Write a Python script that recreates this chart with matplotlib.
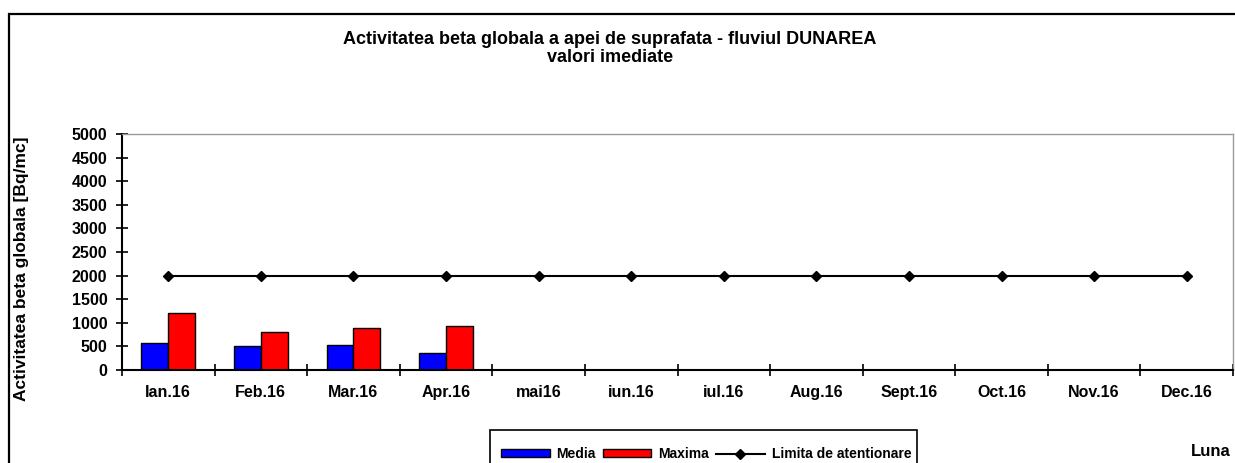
import numpy as np
import matplotlib.pyplot as plt
from matplotlib.patches import Rectangle

# -----------------------------
# DATA
# -----------------------------
months = ["Ian.16", "Feb.16", "Mar.16", "Apr.16", "mai16", "iun.16",
          "iul.16", "Aug.16", "Sept.16", "Oct.16", "Nov.16", "Dec.16"]
media = [570, 500, 535, 350, 0, 0, 0, 0, 0, 0, 0, 0]
maxima = [1200, 795, 900, 930, 0, 0, 0, 0, 0, 0, 0, 0]
limita = [2000] * 12
yticks = list(range(0, 5001, 500))

plt.rcParams['font.family'] = ['Liberation Sans', 'DejaVu Sans']
plt.rcParams['font.weight'] = 'bold'

W, H = 1235, 463
fig = plt.figure(figsize=(W / 100, H / 100), dpi=100)

# chart border
fig.patches.append(Rectangle((9 / W, -0.1), 1.2, (H - 14) / H + 0.1,
                             transform=fig.transFigure, fill=False,
                             edgecolor="black", linewidth=1.6))

ax = fig.add_axes([122 / W, (H - 370) / H, (1233 - 122) / W, (370 - 134) / H])

x = np.arange(len(months))
bw = 0.29
h_media = ax.bar(x - bw / 2, media, bw, color="#0000FF", edgecolor="black", linewidth=1, label="Media")
h_max = ax.bar(x + bw / 2, maxima, bw, color="#FF0000", edgecolor="black", linewidth=1, label="Maxima")
h_lim, = ax.plot(x, limita, color="black", linewidth=1.5, marker="D", markersize=5.5,
                 label="Limita de atentionare")

ax.set_xlim(-0.5, len(months) - 0.5)
ax.set_ylim(0, 5000)
ax.set_yticks(yticks)
ax.set_yticklabels([str(v) for v in yticks], fontsize=11.5, fontweight="bold")
ax.set_xticks(x)
ax.set_xticklabels(months, fontsize=11.5, fontweight="bold")
ax.set_xticks(np.arange(len(months) + 1) - 0.5, minor=True)
ax.tick_params(axis="x", which="major", length=0, pad=11)
ax.tick_params(axis="x", which="minor", length=9, width=1.2, direction="inout")
ax.tick_params(axis="y", length=9, width=1.2, direction="inout", pad=6)

for s in ["top", "right"]:
    ax.spines[s].set_color("#999999")
    ax.spines[s].set_linewidth(1)
for s in ["left", "bottom"]:
    ax.spines[s].set_linewidth(1.5)

fig.text(22 / W, 1 - 269 / H, "Activitatea beta globala [Bq/mc]", rotation=90,
         ha="center", va="center", fontsize=12.5, fontweight="bold")

fig.text(0.494, 1 - 40 / H, "Activitatea beta globala a apei de suprafata - fluviul DUNAREA",
         ha="center", va="center", fontsize=13, fontweight="bold")
fig.text(0.494, 1 - 58 / H, "valori imediate",
         ha="center", va="center", fontsize=13, fontweight="bold")
fig.text(1231 / W, 1 - 451 / H, "Luna", ha="right", va="center", fontsize=12, fontweight="bold")

# legend box (cut by the bottom edge, like the original)
fig.patches.append(Rectangle((490 / W, -0.1), (917 - 490) / W, (H - 430) / H + 0.1,
                             transform=fig.transFigure, fill=False,
                             edgecolor="black", linewidth=1.2))
leg = fig.legend([h_media, h_max, h_lim], ["Media", "Maxima", "Limita de atentionare"],
                 loc="center left", bbox_to_anchor=(501 / W, 1 - 454 / H), ncol=3,
                 fontsize=10, frameon=False,
                 handlelength=3.5, handleheight=0.45, columnspacing=0.5,
                 handletextpad=0.5, borderpad=0, borderaxespad=0)

fig.savefig("out.png", dpi=100)
